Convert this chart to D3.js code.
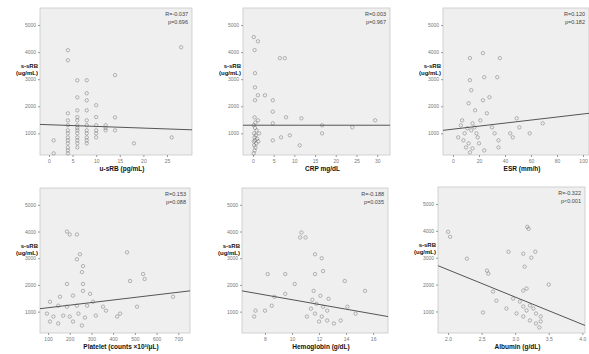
<!DOCTYPE html>
<html>
<head>
<meta charset="utf-8">
<title>s-sRB correlations</title>
<script src="https://d3js.org/d3.v7.min.js"></script>
<style>
  body { margin: 0; background: #fff; }
  svg { display: block; font-family: "Liberation Sans", Arial, sans-serif; }
  .tick text { fill: #777; font-size: 5px; }
  .tick line, .domain { stroke: #999; }
</style>
</head>
<body>
<svg id="chart" width="589" height="354"></svg>
<script>
// ---- data ----
const yTicks = [1000, 2000, 3000, 4000, 5000];
const yLabel = ["s-sRB", "(ug/mL)"];

const xTitles = ["u-sRB (pg/mL)", "CRP mg/dL", "ESR (mm/h)",
                 "Platelet (counts \u00d710\u00b3/\u03bcL)", "Hemoglobin (g/dL)", "Albumin (g/dL)"];
const xTicks = [
  [0, 5, 10, 15, 20, 25],
  [0, 5, 10, 15, 20, 25, 30],
  [0, 20, 40, 60, 80, 100],
  [100, 200, 300, 400, 500, 600, 700],
  [8, 10, 12, 14, 16],
  [2.0, 2.5, 3.0, 3.5, 4.0]
];
const xDomains = [[-1.9, 30.3], [-2.4, 33.1], [-7.7, 104.6], [63, 754], [6.3, 17.1], [1.85, 4.04]];
const statR = ["R=-0.037", "R=0.003", "R=0.120", "R=0.153", "R=-0.188", "R=-0.322"];
const statP = ["p=0.696", "p=0.967", "p=0.182", "p=0.088", "p=0.035", "p<0.001"];

// fit lines: [x0, y0, x1, y1] in data units
const fitLines = [
  [-1.9, 1330, 30.3, 1130],
  [-2.4, 1300, 33.1, 1300],
  [-7.7, 1111, 104.6, 1741],
  [63, 1111, 754, 1778],
  [6.3, 1778, 17.1, 815],
  [1.85, 2704, 4.04, 481]
];

const pts1 = [
  [1,740],[1,260],
  [4,260],[4,370],[4,480],[4,630],[4,740],[4,850],[4,1000],[4,1110],[4,1300],[4,1480],[4,1740],[4,3700],[4,4070],
  [6,480],[6,630],[6,740],[6,850],[6,1000],[6,1110],[6,1200],[6,1300],[6,1480],[6,1600],[6,1850],[6,2330],[6,2960],
  [8,630],[8,740],[8,850],[8,1000],[8,1110],[8,1300],[8,1480],[8,1850],[8,2220],[8,2480],[8,2960],
  [10,850],[10,1000],[10,1110],[10,1300],[10,1600],[10,2040],
  [12,1110],[12,1200],[12,1300],
  [14,1110],[14,1590],[14,3150],
  [18,630],[26,850],[28,4180]
];
const pts2 = [
  [0.2,260],[0.4,370],[0.6,480],[0.3,560],[0.8,630],[0.2,700],[0.5,740],[1.0,800],[0.4,850],[0.7,930],
  [0.3,1000],[0.9,1110],[0.5,1200],[0.2,1300],[0.6,1400],[1.2,1480],[0.4,1590],[1.5,1000],[1.3,700],
  [0.2,4556],[1.2,4400],[0.4,4074],[0.5,3222],[0.5,2700],[0.5,2222],[2.9,2407],[1.2,2407],
  [4.8,2222],[4.8,1800],[4.8,1370],[4.8,741],[6.5,3778],[7.7,3778],[8,1593],[6.8,852],
  [8.9,926],[11.3,556],[11.7,1556],[16.7,1000],[16.7,1296],[24,1222],[29.5,1481]
];
const pts3 = [
  [13,3778],[23,3963],[36,3778],[13,2963],[14,2593],[24,3074],[34,3074],
  [12,2111],[23,2222],[28,2333],[17,1852],[7,1481],[15,1370],[26,1741],
  [11,1185],[14,1111],[16.5,1222],[4,852],[8,741],[12,630],[15,444],[19,852],[20,630],
  [13,296],[24,370],[30,1222],[32,1000],[35,741],[35,481],[49,1556],[51,1222],
  [44,1000],[46,852],[59,1000],[69,1370],[9,1000],[18,1000],[6,1296],[21,1480],[10,480]
];
const pts4 = [
  [187,4000],[200,3889],[233,3889],[247,3148],[233,2963],[261,2704],[256,2481],
  [464,3222],[538,2407],[545,2222],[261,2037],[187,2037],[261,1778],[294,1667],
  [155,1556],[215,1600],[109,1370],[147,1222],[187,1185],[233,1222],[280,1222],
  [307,1370],[353,1185],[367,1037],[95,926],[125,815],[170,850],[200,815],[240,926],
  [270,778],[320,850],[109,630],[147,556],[215,630],[256,481],[418,815],[432,926],
  [510,1185],[676,1556],[478,2148]
];
const pts5 = [
  [10.7,3963],[11.0,3778],[10.6,3778],[11.7,3148],[12.2,3000],[12.3,2519],[11.7,2407],
  [9.5,2407],[8.2,2407],[13.9,2148],[11.6,1778],[12.1,1593],[12.7,1481],[11.5,1444],
  [11.8,1296],[12.3,1185],[12.6,1037],[11.4,1111],[11.7,926],[12.2,815],[12.6,667],
  [12.0,630],[13.1,556],[11.1,815],[8.7,1556],[9.5,1667],[8.5,1222],[7.3,1037],
  [8.0,1037],[7.2,815],[14.1,1185],[14.7,926],[15.4,1778],[10.2,2037],[13.6,667]
];
const pts6 = [
  [2.0,3963],[2.03,3778],[3.18,4148],[3.2,4074],[2.9,3222],[3.12,3148],[3.24,3000],
  [3.3,3222],[3.14,2667],[2.58,2519],[2.6,2407],[2.67,1741],[3.12,1778],[3.17,1852],
  [2.97,1481],[3.07,1370],[3.12,1185],[3.22,1222],[3.17,1037],[3.27,1111],[3.02,926],
  [3.12,815],[3.31,926],[3.38,815],[3.22,667],[3.31,556],[3.38,630],[3.36,407],
  [2.87,1111],[2.72,1400],[2.52,963],[3.5,2000],[2.28,2963]
];
const allPoints = [pts1, pts2, pts3, pts4, pts5, pts6];

// ---- layout ----
const boxes = [
  { l: 40,  t: 8,   r: 192, b: 155 },
  { l: 243, t: 8,   r: 390, b: 155 },
  { l: 443, t: 8,   r: 589, b: 155 },
  { l: 40,  t: 188, r: 190, b: 333 },
  { l: 242, t: 188, r: 388, b: 333 },
  { l: 438, t: 187, r: 585, b: 333 }
];
const tickFmt = [d3.format("d"), d3.format("d"), d3.format("d"), d3.format("d"), d3.format("d"), d3.format(".1f")];

const svg = d3.select("#chart");

boxes.forEach((bx, i) => {
  const x = d3.scaleLinear().domain(xDomains[i]).range([bx.l, bx.r]);
  const y = d3.scaleLinear().domain([200, 5630]).range([bx.b, bx.t]);
  const g = svg.append("g");

  g.append("rect")
    .attr("x", bx.l).attr("y", bx.t)
    .attr("width", bx.r - bx.l).attr("height", bx.b - bx.t)
    .attr("fill", "#efefef").attr("stroke", "#c8c8c8").attr("stroke-width", 0.8);

  g.append("g").attr("transform", `translate(0,${bx.b})`)
    .call(d3.axisBottom(x).tickValues(xTicks[i]).tickSize(2).tickPadding(2).tickFormat(tickFmt[i]))
    .call(a => a.select(".domain").remove());

  g.append("g").attr("transform", `translate(${bx.l},0)`)
    .call(d3.axisLeft(y).tickValues(yTicks).tickSize(2).tickPadding(2).tickFormat(d3.format("d")))
    .call(a => a.select(".domain").remove());

  // points
  g.append("g").selectAll("circle")
    .data(allPoints[i])
    .join("circle")
    .attr("cx", d => x(d[0]))
    .attr("cy", d => y(d[1]))
    .attr("r", 1.7)
    .attr("fill", "none")
    .attr("stroke", "#666")
    .attr("stroke-width", 0.6)
    .attr("stroke-opacity", 0.75);

  // fit line
  const f = fitLines[i];
  g.append("line")
    .attr("x1", x(f[0])).attr("y1", y(f[1]))
    .attr("x2", x(f[2])).attr("y2", y(f[3]))
    .attr("stroke", "#555").attr("stroke-width", 1);

  // stats
  g.append("text").attr("x", bx.r - 4).attr("y", bx.t + 8)
    .attr("text-anchor", "end").attr("font-size", 5.5).attr("fill", "#444").text(statR[i]);
  g.append("text").attr("x", bx.r - 4).attr("y", bx.t + 16)
    .attr("text-anchor", "end").attr("font-size", 5.5).attr("fill", "#444").text(statP[i]);

  // y label
  const yl = g.append("text").attr("text-anchor", "end")
    .attr("font-size", 6).attr("font-weight", "bold").attr("fill", "#111");
  yl.append("tspan").attr("x", bx.l - 2).attr("y", bx.t + 60).text(yLabel[0]);
  yl.append("tspan").attr("x", bx.l - 2).attr("y", bx.t + 67).text(yLabel[1]);

  // x title
  g.append("text")
    .attr("x", (bx.l + bx.r) / 2 + 6).attr("y", bx.b + 16)
    .attr("text-anchor", "middle").attr("font-size", 6.5).attr("font-weight", "bold")
    .attr("fill", "#111").text(xTitles[i]);
});
</script>
</body>
</html>
